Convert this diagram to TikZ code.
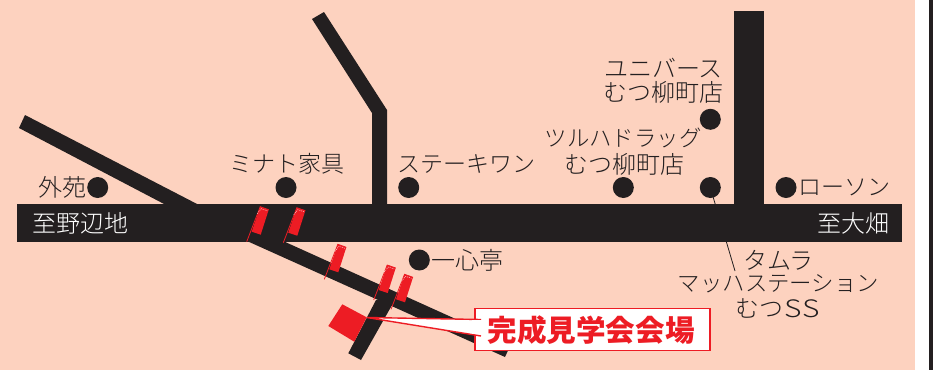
\documentclass[tikz,border=0pt]{standalone}
\usepackage{graphicx}
\usepackage{fontspec}
\newfontfamily\jp{Noto Sans CJK JP}[UprightFont=* Light,BoldFont=* Black]
\definecolor{bg}{HTML}{FDD2BF}
\definecolor{ink}{HTML}{231F20}
\definecolor{sitered}{HTML}{ED1C24}
\tikzset{
  road/.style={fill=ink,draw=none},
  poi/.style={circle,fill=ink,minimum size=21pt,inner sep=0pt},
  lbl/.style={font=\jp\fontsize{23}{26}\selectfont,text=ink,inner sep=0pt},
  lblbig/.style={font=\jp\fontsize{24}{26}\selectfont,text=ink,inner sep=0pt},
  lblkana/.style={font=\jp\fontsize{22.4}{26}\selectfont,text=ink,inner sep=0pt},
  rlbl/.style={font=\jp\fontsize{24}{26}\selectfont,text=white,inner sep=0pt},
  leader/.style={draw=ink,line width=.8pt},
  flagpole/.style={draw=sitered,line width=.8pt},
  flagcloth/.style={fill=sitered,draw=none},
  flagtrim/.style={draw=white,line width=.4pt,dash pattern=on 1pt off 1pt},
  venuebox/.style={draw=sitered,fill=white,line width=1.8pt,minimum width=235pt,minimum height=42pt,inner sep=0pt},
  venuetext/.style={font=\jp\bfseries\fontsize{29.6}{32}\selectfont,text=sitered,inner sep=0pt},
}
\newcommand{\flagat}[2]{%
  \begin{scope}[shift={(#1,#2)}]
    \fill[flagcloth] (5,-10) -- (14,-7) -- (22,-32) -- (13.5,-35) -- cycle;
    \draw[flagpole] (0,0) -- (13.5,-35) -- (22,-32);
    \draw[flagtrim] (10.5,-28) -- (14.5,-33) -- (20.5,-31);
  \end{scope}}
\begin{document}
\begin{tikzpicture}[x=1pt,y=-1pt]
\useasboundingbox (0,0) rectangle (933,370);
\fill[white] (0,0) rectangle (933,370);
\fill[bg] (0,0) rectangle (915,370);
\fill[ink] (928.5,0) rectangle (933,370);
% roads
\fill[road] (25,115) -- (19,128) -- (166,205) -- (199,205) -- cycle;
\fill[road] (312,19) -- (324,12) -- (387,110) -- (387,205) -- (372,205) -- (372,113) -- cycle;
\fill[road] (734,11) rectangle (764,205);
\fill[road] (247,241) -- (283,241) -- (511,344) -- (505,357) -- cycle;
\fill[road] (348.3,353.3) -- (361,360) -- (396,298) -- (376,300) -- cycle;
\fill[road] (17,204) rectangle (902,242);
% site
\fill[sitered] (342.3,304.3) -- (366.7,317.3) -- (354.3,341.7) -- (328.3,326) -- cycle;
% flags
\flagat{246.7}{241.7}
\flagat{283.3}{242.7}
\flagat{324.3}{279.3}
\flagat{373.7}{300}
\flagat{391}{309.3}
% points of interest
\node[poi] (gaien) at (97.7,187.5) {};
\node[poi] (minato) at (286,187.5) {};
\node[poi] (steak) at (408.7,187.5) {};
\node[poi] (tsuruha) at (623.3,187.5) {};
\node[poi] (tamura) at (710.3,187.5) {};
\node[poi] (universe) at (710.3,119.3) {};
\node[poi] (lawson) at (786,187.5) {};
\node[poi] (isshin) at (419.3,260) {};
% labels
\node[lblbig] (tgaien) at (62,187.5) {外苑};
\node[rlbl] (tno) at (80,223.5) {至野辺地};
\node[rlbl] (too) at (853,223.5) {至大畑};
\node[lbl] (tminato) at (286.5,163.5) {ミナト家具};
\node[lbl] (tsteak) at (466.5,163.5) {ステーキワン};
\node[lblbig] (tuni) at (663.5,68) {ユニバース};
\node[lblbig] (tuni2) at (663.5,92) {むつ柳町店};
\node[lblkana] (ttsu) at (623,138) {ツルハドラッグ};
\node[lblbig] (ttsu2) at (624,164) {むつ柳町店};
\node[lbl] (tlawson) at (844.5,187) {ローソン};
\node[lblbig] (tisshin) at (467.5,260) {一心亭};
\node[lblbig] (ttam) at (778.5,260) {タムラ};
\node[lblkana] (ttam2) at (778.5,284) {マッハステーション};
\node[lblbig] (ttam3) at (777.5,308) {むつ\kern1pt\scalebox{1.25}[1]{S}\kern1pt\scalebox{1.25}[1]{S}};
\coordinate (tamend) at (735,271);
\draw[leader] (tamura.center) -- (tamend);
% venue callout
\node[venuebox] (venue) at (592.5,329.5) {};
\coordinate (siteapex) at (366.7,317.5);
\coordinate (wedgetop) at (481,319.5);
\coordinate (wedgebot) at (481,336);
\fill[white] (siteapex) -- (wedgetop) -- (wedgebot) -- cycle;
\draw[sitered,line width=1.4pt] (wedgetop) -- (siteapex) -- (wedgebot);
\fill[white] (472,320.2) rectangle (484,334.2);
\node[venuetext] (tvenue) at (591,330) {完成見学会会場};
\end{tikzpicture}
\end{document}
